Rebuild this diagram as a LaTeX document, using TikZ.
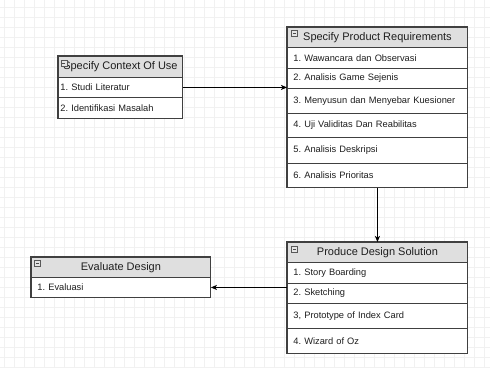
\documentclass[tikz,border=0pt]{standalone}
\usepackage{fontspec}
\setmainfont{Liberation Sans}
\usetikzlibrary{arrows.meta}
\definecolor{bord}{HTML}{404040}
\definecolor{hdrfill}{HTML}{DFDFDF}
\definecolor{txt}{HTML}{1E1E1E}
\definecolor{gridc}{HTML}{F1F1F1}
\frenchspacing
\begin{document}
\begin{tikzpicture}[x=1pt,y=-1pt,
  gridline/.style={draw=gridc, line width=0.5pt},
  hdr/.style={draw=bord, fill=hdrfill, line width=0.9pt, anchor=north west, inner sep=0pt, font=\fontsize{11}{13}\selectfont, text=txt},
  rowbox/.style={draw=bord, fill=white, line width=0.9pt, anchor=north west, inner ysep=0pt, align=left, font=\fontsize{9.3}{11}\selectfont\frenchspacing, text=txt},
  outline/.style={draw=bord, line width=1.1pt},
  icon/.style={draw=gray!70!black, fill=gray!20, line width=0.4pt, minimum size=6pt, inner sep=0pt, anchor=north west},
  conn/.style={draw=black, line width=0.8pt, -{Stealth[length=6pt,width=5pt,inset=1.5pt]}}
]
\useasboundingbox (0,0) rectangle (490,368);
\fill[white] (0,0) rectangle (490,368);
\foreach \g in {4,14,...,484} \draw[gridline] (\g,0) -- (\g,368);
\foreach \g in {7,17,...,367} \draw[gridline] (0,\g) -- (490,\g);

% Box 1: Specify Context Of Use
\node[hdr, minimum width=124pt, minimum height=21pt] (b1h) at (58,56) {Specify Context Of Use};
\node[rowbox, text width=120pt, inner xsep=2pt, minimum height=20pt] (b1r1) at (58,77) {1. Studi Literatur};
\node[rowbox, text width=120pt, inner xsep=2pt, minimum height=21pt] (b1r2) at (58,97) {2. Identifikasi Masalah};
\draw[outline] (b1h.north west) rectangle (b1r2.south east);
\node[icon] (b1i) at (60.5,60) {};
\draw[line width=0.5pt, gray!60!black] ([xshift=1.3pt]b1i.center) -- ([xshift=-1.3pt]b1i.center);

% Box 2: Specify Product Requirements
\node[hdr, minimum width=180pt, minimum height=20pt] (b2h) at (287,27) {Specify Product Requirements};
\node[rowbox, text width=168pt, inner xsep=6pt, minimum height=21pt] (b2r1) at (287,47) {1. Wawancara dan Observasi};
\node[rowbox, text width=168pt, inner xsep=6pt, minimum height=20pt] (b2r2) at (287,68) {2. Analisis Game Sejenis};
\node[rowbox, text width=168pt, inner xsep=6pt, minimum height=25pt] (b2r3) at (287,88) {3. Menyusun dan Menyebar Kuesioner};
\node[rowbox, text width=168pt, inner xsep=6pt, minimum height=24pt] (b2r4) at (287,113) {4. Uji Validitas Dan Reabilitas};
\node[rowbox, text width=168pt, inner xsep=6pt, minimum height=26pt] (b2r5) at (287,137) {5. Analisis Deskripsi};
\node[rowbox, text width=168pt, inner xsep=6pt, minimum height=24pt] (b2r6) at (287,163) {6. Analisis Prioritas};
\draw[outline] (b2h.north west) rectangle (b2r6.south east);
\node[icon] (b2i) at (291,30) {};
\draw[line width=0.5pt, gray!60!black] ([xshift=1.3pt]b2i.center) -- ([xshift=-1.3pt]b2i.center);

% Box 3: Produce Design Solution
\node[hdr, minimum width=180pt, minimum height=20pt] (b3h) at (287,242) {Produce Design Solution};
\node[rowbox, text width=168pt, inner xsep=6pt, minimum height=21pt] (b3r1) at (287,262) {1. Story Boarding};
\node[rowbox, text width=168pt, inner xsep=6pt, minimum height=20pt] (b3r2) at (287,283) {2. Sketching};
\node[rowbox, text width=168pt, inner xsep=6pt, minimum height=25pt] (b3r3) at (287,303) {3, Prototype of Index Card};
\node[rowbox, text width=168pt, inner xsep=6pt, minimum height=25pt] (b3r4) at (287,328) {4. Wizard of Oz};
\draw[outline] (b3h.north west) rectangle (b3r4.south east);
\node[icon] (b3i) at (291,246) {};
\draw[line width=0.5pt, gray!60!black] ([xshift=1.3pt]b3i.center) -- ([xshift=-1.3pt]b3i.center);

% Box 4: Evaluate Design
\node[hdr, minimum width=179pt, minimum height=20pt] (b4h) at (31,257) {Evaluate Design};
\node[rowbox, text width=167pt, inner xsep=6pt, minimum height=20pt] (b4r1) at (31,277) {1. Evaluasi};
\draw[outline] (b4h.north west) rectangle (b4r1.south east);
\node[icon] (b4i) at (34,260) {};
\draw[line width=0.5pt, gray!60!black] ([xshift=1.3pt]b4i.center) -- ([xshift=-1.3pt]b4i.center);

% Connectors
\draw[conn] (b1r1.east) -- (b1r1.east -| b2h.west);
\draw[conn] (b2r6.south) -- (b3h.north);
\draw[conn] (b4r1.east -| b3r2.west) -- (b4r1.east);
\end{tikzpicture}
\end{document}
